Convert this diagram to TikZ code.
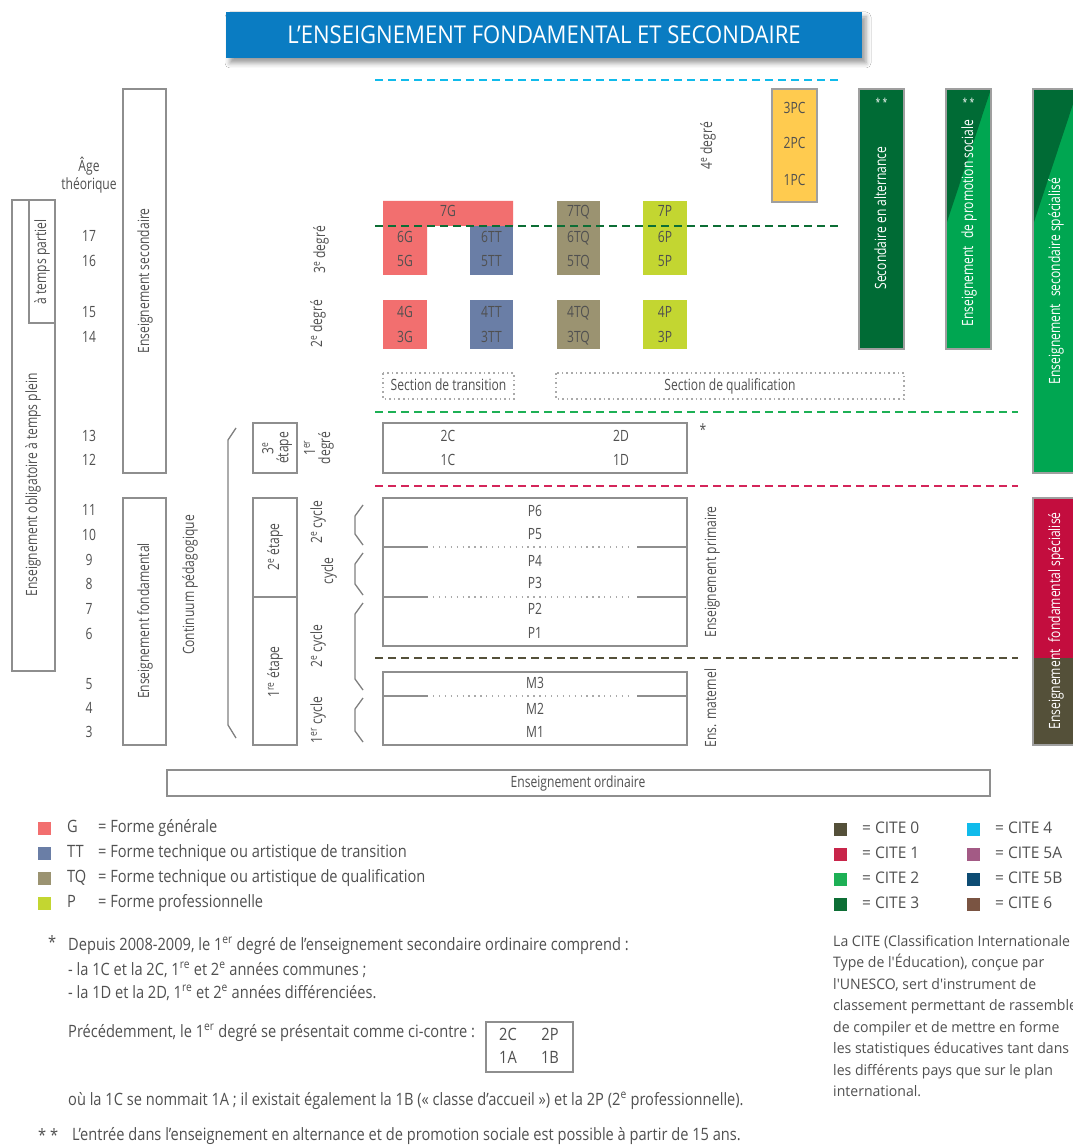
\documentclass[tikz,border=0pt]{standalone}
\usepackage{fontspec}
\setmainfont{Open Sans}[FakeStretch=0.78]
\newfontfamily\notefont{Open Sans}[FakeStretch=0.86]
\newfontfamily\citefont{Open Sans}[FakeStretch=0.97]
\newfontfamily\titlefont{Open Sans}[FakeStretch=0.9]
\usetikzlibrary{shadows.blur}

\definecolor{txt}{HTML}{505050}
\definecolor{frame}{HTML}{8E8E8E}
\definecolor{titleblue}{HTML}{0A7CC2}
\definecolor{formG}{HTML}{F26F6F}
\definecolor{formTT}{HTML}{6A7EA6}
\definecolor{formTQ}{HTML}{9B9371}
\definecolor{formP}{HTML}{C3D631}
\definecolor{pcyellow}{HTML}{FFCB4F}
\definecolor{cite0}{HTML}{545039}
\definecolor{cite1}{HTML}{C8254A}
\definecolor{cite2}{HTML}{1DB055}
\definecolor{cite3}{HTML}{0D6E35}
\definecolor{cite4}{HTML}{10BBEB}
\definecolor{cite5a}{HTML}{A35A85}
\definecolor{cite5b}{HTML}{0D4C73}
\definecolor{cite6}{HTML}{7A5442}
\definecolor{linered}{HTML}{D4255A}
\definecolor{barlight}{HTML}{00A651}
\definecolor{bardark}{HTML}{006B35}
\definecolor{barred}{HTML}{C30D3E}

\tikzset{
  tfont/.style={text=txt, font=\fontsize{15.5}{18}\selectfont, inner sep=0pt},
  lbl/.style={tfont, text height=11pt, text depth=3pt},
  vlbl/.style={lbl, rotate=90},
  vtwo/.style={tfont, rotate=90, align=center, font=\fontsize{15.5}{15}\selectfont},
  wlbl/.style={vlbl, text=white},
  frm/.style={draw=frame, line width=1.8pt},
  limit/.style={line width=2.4pt, dash pattern=on 8pt off 5pt},
  brk/.style={draw=frame!90!black, line width=1.3pt},
  sepline/.style={draw=frame, line width=1.6pt},
  sepdots/.style={draw=frame!75, line width=1.3pt, dash pattern=on 1.3pt off 4.6pt},
  secbox/.style={draw=frame!75, line width=1.6pt, dash pattern=on 1.6pt off 3pt},
  bar/.style={draw=frame!85, line width=2pt},
  swatch/.style={minimum size=13pt, inner sep=0pt},
  note/.style={text=txt, font=\notefont\fontsize{17}{20}\selectfont, inner sep=0pt,
               text height=12pt, text depth=3.5pt, anchor=west},
  notec/.style={note, anchor=center},
  citeleg/.style={text=txt, font=\citefont\fontsize{16}{19}\selectfont, inner sep=0pt,
               text height=11.5pt, text depth=3.5pt, anchor=west},
  cite/.style={text=txt, font=\citefont\fontsize{14.5}{17}\selectfont, inner sep=0pt,
               text height=11pt, text depth=3pt, anchor=west},
}

\begin{document}
\begin{tikzpicture}[x=1pt,y=-1pt]
\fill[white] (0,0) rectangle (1072,1147);
\useasboundingbox (0,0) rectangle (1072,1147);

% ---------- title banner ----------
\node[fill=titleblue, minimum width=636pt, minimum height=46pt, inner sep=0pt,
      blur shadow={shadow xshift=4pt, shadow yshift=-5pt, shadow blur radius=5pt},
      text=white, font=\titlefont\fontsize{24.5}{28}\selectfont]
      (title) at (544,35) {L’ENSEIGNEMENT FONDAMENTAL ET SECONDAIRE};

% ---------- left column: compulsory schooling ----------
\draw[frm] (12,200) rectangle (55,671);
\draw[frm] (29,200) rectangle (55,323);
\node[vlbl] (partiel) at (42,262) {à temps partiel};
\node[vlbl] (plein) at (33,485) {Enseignement obligatoire à temps plein};

\node[lbl] (age) at (89,168) {Âge};
\node[lbl] (theo) at (89,186) {théorique};
\foreach \a/\y in {17/238,16/263,15/313,14/338,13/437,12/461,11/511,10/536,
                   9/561,8/585,7/610,6/635,5/685,4/709,3/733}
  \node[lbl] (age\a) at (89,\y) {\a};

\draw[frm] (123,89) rectangle (166,473);
\node[vlbl] (secondaire) at (145,281) {Enseignement secondaire};
\draw[frm] (123,498) rectangle (166,745);
\node[vlbl] (fondamental) at (145,621) {Enseignement fondamental};
\node[vlbl] (continuum) at (190,585) {Continuum pédagogique};

% long bracket of the continuum
\draw[brk] (236,428) -- (228,440) -- (228,725) -- (236,738);

% steps
\draw[frm] (253,423) rectangle (297,473);
\draw[frm] (253,498) rectangle (297,745);
\draw[frm] (253,597) -- (297,597);
\node[vtwo] (etape3) at (277,448) {3\textsuperscript{e}\\étape};
\node[vtwo] (degre1) at (319,448) {1\textsuperscript{er}\\degré};
\node[vlbl] (etape2) at (275,547) {2\textsuperscript{e} étape};
\node[vlbl] (etape1) at (275,672) {1\textsuperscript{re} étape};

% cycles
\node[vlbl] (cyc4) at (318,522) {2\textsuperscript{e} cycle};
\node[vlbl] (cyc3) at (329,571) {cycle};
\node[vlbl] (cyc2) at (318,646) {2\textsuperscript{e} cycle};
\node[vlbl] (cyc1) at (318,720) {1\textsuperscript{er} cycle};
\foreach \t/\b in {505/545,553/595,603/690,698/742}
  \draw[brk] (363,\t) -- (355,\t+11) -- (355,\b-11) -- (363,\b);

% degrees of secondary school
\node[vlbl] (degre3) at (321,250) {3\textsuperscript{e} degré};
\node[vlbl] (degre2) at (318,324) {2\textsuperscript{e} degré};
\node[vlbl] (degre4) at (708,146) {4\textsuperscript{e} degré};

% ---------- coloured forms (3rd and 2nd degree) ----------
\fill[formG] (383,201) -- (513,201) -- (513,226) -- (427,226) -- (427,275) -- (383,275) -- cycle;
\fill[formTT] (470,226) rectangle (513,275);
\fill[formTQ] (557,201) rectangle (600,275);
\fill[formP] (643,201) rectangle (687,275);
\fill[formG] (383,300) rectangle (427,349);
\fill[formTT] (470,300) rectangle (513,349);
\fill[formTQ] (557,300) rectangle (600,349);
\fill[formP] (643,300) rectangle (687,349);

\node[lbl] (g7) at (448,213) {7G};
\node[lbl] (g6) at (405,239) {6G};
\node[lbl] (g5) at (405,263) {5G};
\node[lbl] (tt6) at (491.5,239) {6TT};
\node[lbl] (tt5) at (491.5,263) {5TT};
\node[lbl] (tq7) at (578.5,213) {7TQ};
\node[lbl] (tq6) at (578.5,239) {6TQ};
\node[lbl] (tq5) at (578.5,263) {5TQ};
\node[lbl] (p7) at (665,213) {7P};
\node[lbl] (p6) at (665,239) {6P};
\node[lbl] (p5) at (665,263) {5P};
\node[lbl] (g4) at (405,313) {4G};
\node[lbl] (g3) at (405,338) {3G};
\node[lbl] (tt4) at (491.5,313) {4TT};
\node[lbl] (tt3) at (491.5,338) {3TT};
\node[lbl] (tq4) at (578.5,313) {4TQ};
\node[lbl] (tq3) at (578.5,338) {3TQ};
\node[lbl] (p4) at (665,313) {4P};
\node[lbl] (p3) at (665,338) {3P};

% sections
\draw[secbox] (383,373) rectangle (514,399);
\node[lbl] (sectrans) at (448.5,386) {Section de transition};
\draw[secbox] (556,373) rectangle (904,399);
\node[lbl] (secqual) at (730,386) {Section de qualification};

% 4th degree
\draw[fill=pcyellow, draw=frame!85, line width=2pt] (772,89) rectangle (817,202);
\node[lbl] (pc3) at (794.5,110) {3PC};
\node[lbl] (pc2) at (794.5,145) {2PC};
\node[lbl] (pc1) at (794.5,182) {1PC};

% ---------- level limits ----------
\draw[limit, cite4] (375,80) -- (840,80);
\draw[limit, cite3] (375,226) -- (840,226);
\draw[limit, cite2] (375,412) -- (1018,412);
\draw[limit, linered] (375,486) -- (1018,486);
\draw[limit, cite0] (375,658) -- (1018,658);

% ---------- 1st degree ----------
\draw[frm] (383,423) rectangle (687,473);
\node[lbl] (c2) at (448,437) {2C};
\node[lbl] (c1) at (448,461) {1C};
\node[lbl] (d2) at (621,437) {2D};
\node[lbl] (d1) at (621,461) {1D};
\node[lbl] (star) at (703,431) {*};

% ---------- primary school ----------
\draw[frm] (383,498) rectangle (687,646);
\foreach \y in {547,597} {
  \draw[sepline] (383,\y) -- (428,\y);
  \draw[sepdots] (433,\y) -- (633,\y);
  \draw[sepline] (637,\y) -- (687,\y);
}
\foreach \n/\y in {P6/512,P5/535,P4/562,P3/584,P2/610,P1/634}
  \node[lbl] (\n) at (535,\y) {\n};
\node[vlbl] (primaire) at (712,572) {Enseignement primaire};

% ---------- nursery school ----------
\draw[frm] (383,672) rectangle (687,745);
\draw[sepline] (383,696) -- (428,696);
\draw[sepdots] (433,696) -- (633,696);
\draw[sepline] (637,696) -- (687,696);
\foreach \n/\y in {M3/684,M2/710,M1/733}
  \node[lbl] (\n) at (535,\y) {\n};
\node[vlbl] (maternel) at (712,708) {Ens. maternel};

% ordinary education
\draw[frm] (167,770) rectangle (990,796);
\node[lbl] (ordinaire) at (578,783) {Enseignement ordinaire};

% ---------- side bars ----------
\fill[bardark] (859,89) rectangle (904,349);
\draw[bar] (859,89) rectangle (904,349);
\node[lbl, text=white, font=\fontsize{11}{12}\selectfont] (st1) at (881.5,103) {* *};
\node[wlbl] (alternance) at (882,218) {Secondaire en alternance};

\fill[barlight] (946,89) rectangle (991,349);
\fill[bardark] (946,89) -- (991,89) -- (946,225) -- cycle;
\draw[bar] (946,89) rectangle (991,349);
\node[lbl, text=white, font=\fontsize{11}{12}\selectfont] (st2) at (968.5,103) {* *};
\node[wlbl] (promotion) at (969,223) {Enseignement\hspace{4pt} de promotion sociale};

\fill[barlight] (1033,89) rectangle (1078,473);
\fill[bardark] (1033,89) -- (1078,89) -- (1033,225) -- cycle;
\draw[bar] (1033,89) rectangle (1078,473);
\node[wlbl] (secspec) at (1056,281) {Enseignement\hspace{4pt} secondaire spécialisé};

\fill[barred] (1033,498) rectangle (1078,658);
\fill[cite0] (1033,658) rectangle (1078,745);
\draw[bar] (1033,498) rectangle (1078,745);
\node[wlbl] (fondspec) at (1056,621) {Enseignement\hspace{4pt} fondamental spécialisé};

% ---------- legend of forms ----------
\node[swatch, fill=formG] (swG) at (44.5,828.5) {};
\node[swatch, fill=formTT] (swTT) at (44.5,853.5) {};
\node[swatch, fill=formTQ] (swTQ) at (44.5,878.5) {};
\node[swatch, fill=formP] (swP) at (44.5,903.5) {};
\node[note] (kG) at (67,828) {G};
\node[note] (kTT) at (67,853) {TT};
\node[note] (kTQ) at (67,878) {TQ};
\node[note] (kP) at (67,903) {P};
\node[note] (dG) at (98,828) {= Forme générale};
\node[note] (dTT) at (98,853) {= Forme technique ou artistique de transition};
\node[note] (dTQ) at (98,878) {= Forme technique ou artistique de qualification};
\node[note] (dP) at (98,903) {= Forme professionnelle};

% ---------- notes ----------
\node[note] (n1s) at (48,944) {*};
\node[note] (n1) at (68,946) {Depuis 2008-2009, le 1\textsuperscript{er} degré de l’enseignement secondaire ordinaire comprend :};
\node[note] (n1a) at (68,971) {- la 1C et la 2C, 1\textsuperscript{re} et 2\textsuperscript{e} années communes ;};
\node[note] (n1b) at (68,994) {- la 1D et la 2D, 1\textsuperscript{re} et 2\textsuperscript{e} années différenciées.};
\node[note] (n1c) at (68,1033) {Précédemment, le 1\textsuperscript{er} degré se présentait comme ci-contre :};
\draw[frm] (486,1022) rectangle (573,1072);
\node[notec] (o2c) at (508,1036) {2C};
\node[notec] (o2p) at (550,1036) {2P};
\node[notec] (o1a) at (508,1059) {1A};
\node[notec] (o1b) at (550,1059) {1B};
\node[note] (n1d) at (68,1101) {où la 1C se nommait 1A ; il existait également la 1B (« classe d’accueil ») et la 2P (2\textsuperscript{e} professionnelle).};
\node[note] (n2s) at (38,1137) {* *};
\node[note] (n2) at (72,1136) {L’entrée dans l’enseignement en alternance et de promotion sociale est possible à partir de 15 ans.};

% ---------- CITE legend ----------
\node[swatch, fill=cite0] (c0) at (840,829) {};
\node[swatch, fill=cite1] (c1s) at (840,854) {};
\node[swatch, fill=cite2] (c2s) at (840,879) {};
\node[swatch, fill=cite3] (c3s) at (840,904) {};
\node[swatch, fill=cite4] (c4s) at (973,829) {};
\node[swatch, fill=cite5a] (c5as) at (973,854) {};
\node[swatch, fill=cite5b] (c5bs) at (973,879) {};
\node[swatch, fill=cite6] (c6s) at (973,904) {};
\node[citeleg] (t0) at (862,829) {= CITE 0};
\node[citeleg] (t1) at (862,854) {= CITE 1};
\node[citeleg] (t2) at (862,879) {= CITE 2};
\node[citeleg] (t3) at (862,904) {= CITE 3};
\node[citeleg] (t4) at (995,829) {= CITE 4};
\node[citeleg] (t5a) at (995,854) {= CITE 5A};
\node[citeleg] (t5b) at (995,879) {= CITE 5B};
\node[citeleg] (t6) at (995,904) {= CITE 6};

\node[cite] (p1) at (833,942) {La CITE (Classification Internationale};
\node[cite] (p2) at (833,963.5) {Type de l\textquotesingle Éducation), conçue par};
\node[cite] (p3) at (833,985) {l\textquotesingle UNESCO, sert d\textquotesingle instrument de};
\node[cite] (p4) at (833,1006.5) {classement permettant de rassembler,};
\node[cite] (p5) at (833,1028) {de compiler et de mettre en forme};
\node[cite] (p6) at (833,1049.5) {les statistiques éducatives tant dans};
\node[cite] (p7) at (833,1071) {les différents pays que sur le plan};
\node[cite] (p8) at (833,1092.5) {international.};
\end{tikzpicture}
\end{document}
